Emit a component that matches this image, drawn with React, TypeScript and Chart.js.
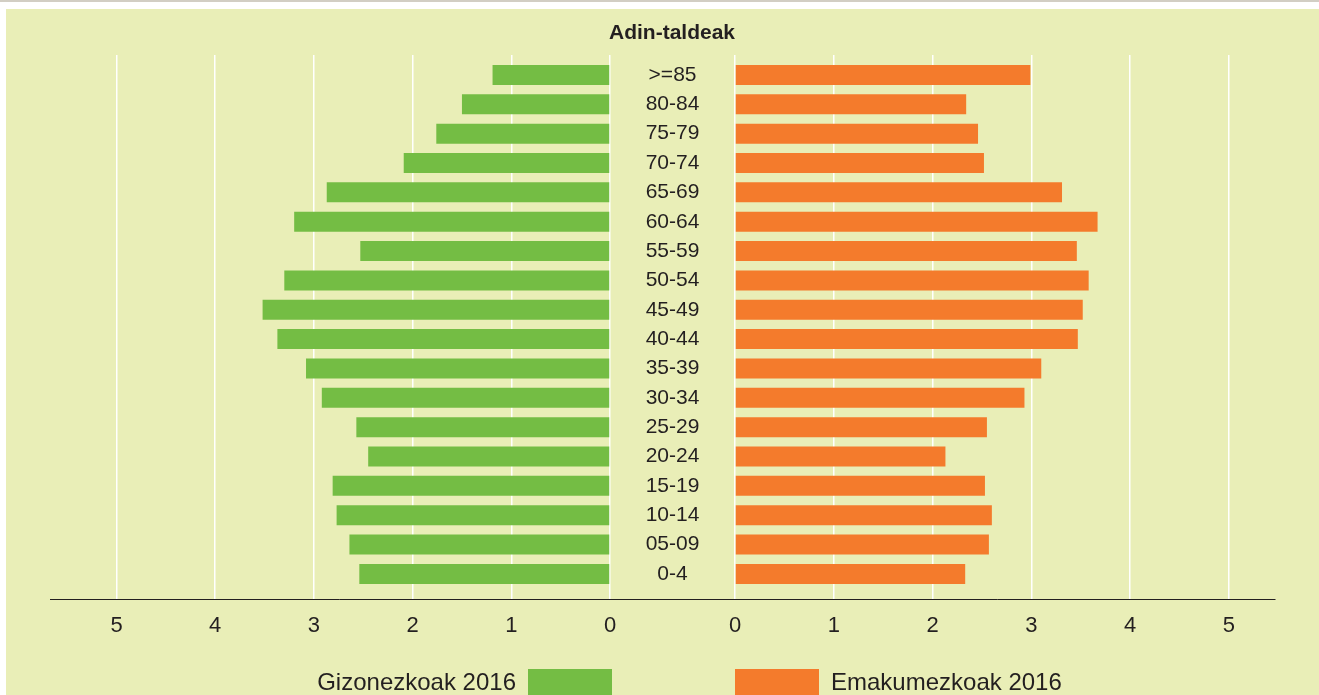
import React, { useEffect, useRef } from 'react';
import { Chart, registerables } from 'chart.js';

Chart.register(...registerables);

// ---- data ----
const ageGroups = [
  '>=85', '80-84', '75-79', '70-74', '65-69', '60-64', '55-59', '50-54', '45-49',
  '40-44', '35-39', '30-34', '25-29', '20-24', '15-19', '10-14', '05-09', '0-4',
];
const men2016 = [
  1.19, 1.5, 1.76, 2.09, 2.87, 3.2, 2.53, 3.3, 3.52,
  3.37, 3.08, 2.92, 2.57, 2.45, 2.81, 2.77, 2.64, 2.54,
];
const women2016 = [
  2.99, 2.34, 2.46, 2.52, 3.31, 3.67, 3.46, 3.58, 3.52,
  3.47, 3.1, 2.93, 2.55, 2.13, 2.53, 2.6, 2.57, 2.33,
];
const xTicks = [0, 1, 2, 3, 4, 5];
const titleText = 'Adin-taldeak';
const menLabel = 'Gizonezkoak 2016';
const womenLabel = 'Emakumezkoak 2016';

// ---- styles ----
const FONT = "'Liberation Sans', Arial, Helvetica, sans-serif";
const TEXT = '#231F20';
const GREEN = '#74BD44';
const ORANGE = '#F47B2C';
const BG = '#E9EEB7';

const yScale = (display: boolean) => ({
  type: 'linear' as const,
  reverse: true,
  offset: false,
  min: -0.68,
  max: 17.855,
  display,
  afterBuildTicks: (s: any) => {
    s.ticks = ageGroups.map((_, i) => ({ value: i }));
  },
  afterFit: (s: any) => {
    if (display) s.width = 110;
  },
  grid: { display: false, drawTicks: false, offset: false },
  border: { display: false },
  ticks: {
    autoSkip: false,
    padding: 19.6,
    crossAlign: 'center' as const,
    color: TEXT,
    font: { family: FONT, size: 21 },
    callback: (v: any) => ageGroups[v] ?? '',
  },
});

const xScale = (min: number, max: number, reverse: boolean) => ({
  type: 'linear' as const,
  reverse,
  min,
  max,
  afterBuildTicks: (s: any) => {
    s.ticks = xTicks.map((v) => ({ value: v }));
  },
  grid: { color: '#FFFFFF', lineWidth: 1.5, drawTicks: false },
  border: { color: TEXT, width: 1 },
  ticks: {
    padding: 13.8,
    maxRotation: 0,
    color: TEXT,
    font: { family: FONT, size: 22 },
    callback: (v: any) => String(v),
  },
});

const axisBridge = {
  id: 'axisBridge',
  afterDraw(chart: any) {
    const { ctx, chartArea, scales } = chart;
    const y = Math.round(scales.x.top) + 0.5;
    ctx.save();
    ctx.strokeStyle = TEXT;
    ctx.lineWidth = 1;
    ctx.beginPath();
    ctx.moveTo(scales.y.left, y);
    ctx.lineTo(chartArea.left + 1, y);
    ctx.stroke();
    ctx.restore();
  },
};

const legendLabels = {
  boxWidth: 84,
  boxHeight: 28,
  padding: 16,
  color: TEXT,
  font: { family: FONT, size: 24 },
};

export default function App() {
  const leftRef = useRef<HTMLCanvasElement | null>(null);
  const rightRef = useRef<HTMLCanvasElement | null>(null);

  useEffect(() => {
    const left = new Chart(leftRef.current as HTMLCanvasElement, {
      type: 'bar',
      data: {
        datasets: [
          {
            label: menLabel,
            data: men2016.map((v, i) => ({ x: v, y: i })),
            backgroundColor: GREEN,
            borderWidth: 0,
            barPercentage: 0.681,
            categoryPercentage: 1,
          },
        ],
      },
      options: {
        indexAxis: 'y',
        responsive: false,
        animation: false,
        layout: { padding: { left: 50, right: 0, top: 55, bottom: 0 } },
        scales: {
          x: xScale(-0.1824, 5.674, true) as any,
          y: yScale(false) as any,
        },
        plugins: {
          title: { display: false },
          tooltip: { enabled: false },
          legend: {
            position: 'bottom',
            align: 'start',
            rtl: true,
            labels: legendLabels,
          },
        },
      },
    });

    const right = new Chart(rightRef.current as HTMLCanvasElement, {
      type: 'bar',
      data: {
        datasets: [
          {
            label: womenLabel,
            data: women2016.map((v, i) => ({ x: v, y: i })),
            backgroundColor: ORANGE,
            borderWidth: 0,
            barPercentage: 0.681,
            categoryPercentage: 1,
          },
        ],
      },
      options: {
        indexAxis: 'y',
        responsive: false,
        animation: false,
        layout: { padding: { left: 0, right: 44, top: 0, bottom: 0 } },
        scales: {
          x: xScale(-0.162, 5.466, false) as any,
          y: yScale(true) as any,
        },
        plugins: {
          title: {
            display: true,
            text: titleText,
            align: 'start',
            color: TEXT,
            font: { family: FONT, size: 21, weight: 'bold' },
            padding: { top: 21, bottom: 8.8 },
          },
          tooltip: { enabled: false },
          legend: {
            position: 'bottom',
            align: 'start',
            fullSize: false,
            labels: legendLabels,
          },
        },
      },
      plugins: [axisBridge],
    });

    return () => {
      left.destroy();
      right.destroy();
    };
  }, []);

  return (
    <div
      style={{
        position: 'fixed',
        left: 0,
        top: 0,
        width: 1319,
        height: 695,
        overflow: 'hidden',
        background: '#FFFFFF',
      }}
    >
      <div style={{ position: 'absolute', left: 0, top: 0, width: 1319, height: 2, background: '#D2CEC4' }} />
      <div style={{ position: 'absolute', left: 6, top: 9, right: 0, bottom: 0, background: BG }} />
      <div style={{ position: 'absolute', left: 0, top: 0, width: 628, height: 707 }}>
        <canvas ref={leftRef} width={628} height={707} style={{ display: 'block' }} />
      </div>
      <div style={{ position: 'absolute', left: 609, top: 0, width: 710, height: 707 }}>
        <canvas ref={rightRef} width={710} height={707} style={{ display: 'block' }} />
      </div>
    </div>
  );
}
